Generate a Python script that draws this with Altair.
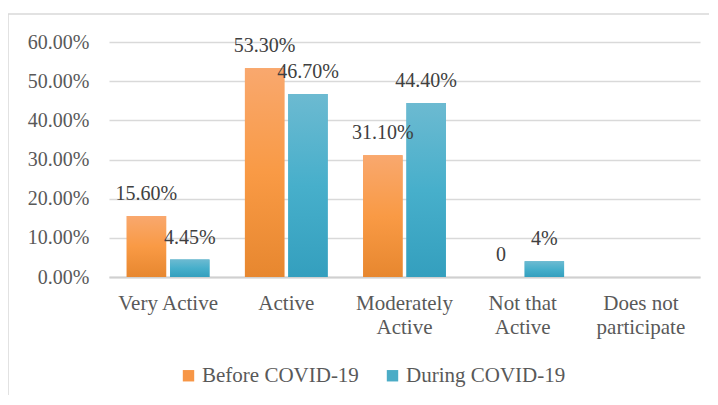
import altair as alt
import pandas as pd

categories = ["Very Active", "Active", "Moderately|Active", "Not that|Active", "Does not|participate"]
series = ["Before COVID-19", "During COVID-19"]
before_vals = [0.156, 0.533, 0.311, 0.0]
before_labels = ["15.60%", "53.30%", "31.10%", "0"]
during_vals = [0.0445, 0.467, 0.444, 0.04]
during_labels = ["4.45%", "46.70%", "44.40%", "4%"]

rows = []
for c, v, l in zip(categories, before_vals, before_labels):
    rows.append({"cat": c, "series": series[0], "value": v, "label": l})
for c, v, l in zip(categories, during_vals, during_labels):
    rows.append({"cat": c, "series": series[1], "value": v, "label": l})
df = pd.DataFrame(rows)

FONT = "Liberation Serif"
FS = 20
FS2 = 21

xenc = alt.X("cat:N", sort=categories,
             scale=alt.Scale(domain=categories, paddingInner=0.3, paddingOuter=0.15),
             axis=alt.Axis(title=None, labelAngle=0, labelExpr="split(datum.label, '|')",
                           labelLineHeight=24, labelPadding=15, ticks=False,
                           domainColor="#d0d0d0", domainWidth=2, labelFont=FONT,
                           labelFontSize=FS2, labelColor="#595959", grid=False))
xoff = alt.XOffset("series:N", scale=alt.Scale(domain=series, paddingInner=0.09))
yenc = alt.Y("value:Q", scale=alt.Scale(domain=[0, 0.6]),
             axis=alt.Axis(title=None, format=".2%", values=[0, 0.1, 0.2, 0.3, 0.4, 0.5, 0.6],
                           labelFont=FONT, labelFontSize=FS, labelColor="#595959",
                           labelPadding=20, ticks=False, domain=False,
                           gridColor="#d9d9d9", gridWidth=1.5))

base = alt.Chart(df)

legend_bars = base.mark_bar().encode(
    x=xenc, xOffset=xoff, y=yenc,
    color=alt.Color("series:N", scale=alt.Scale(domain=series, range=["#F79646", "#4BACC6"]),
                    legend=alt.Legend(title=None, orient="none", direction="horizontal",
                                      legendX=69, legendY=323, symbolType="square",
                                      symbolSize=130, symbolStrokeWidth=0,
                                      labelFont=FONT, labelFontSize=FS2, labelColor="#595959",
                                      labelOffset=3, columnPadding=23))
)

def grad(stops):
    return alt.LinearGradient(gradient="linear", x1=0, x2=0, y1=0, y2=1,
                              stops=[alt.GradientStop(color=c, offset=o) for o, c in stops])

orange = base.transform_filter(alt.datum.series == series[0]).mark_bar(
    color=grad([(0, "#F9A86E"), (0.5, "#F99A45"), (1, "#E7872F")])
).encode(x=xenc, xOffset=xoff, y=yenc)

blue = base.transform_filter(alt.datum.series == series[1]).mark_bar(
    color=grad([(0, "#6CBAD1"), (0.5, "#47AFCB"), (1, "#349FBE")])
).encode(x=xenc, xOffset=xoff, y=yenc)

labels = base.mark_text(font=FONT, fontSize=FS, color="#404040", baseline="middle", dy=-22).encode(
    x=xenc, xOffset=xoff, y=yenc, text="label:N"
)

border = alt.Chart(alt.Data(values=[{}])).mark_rect(
    fill=None, stroke="#d9d9d9", strokeWidth=1.5
).encode(x=alt.value(-101), x2=alt.value(640), y=alt.value(-28), y2=alt.value(420))

chart = alt.layer(border, legend_bars, orange, blue, labels).properties(
    width=591, height=235,
    autosize=alt.AutoSizeParams(type="none"),
    padding={"left": 101, "top": 34, "right": 9, "bottom": 118},
).configure_view(stroke=None)

chart.save("out.html", embed_options={"renderer": "svg", "actions": False})
